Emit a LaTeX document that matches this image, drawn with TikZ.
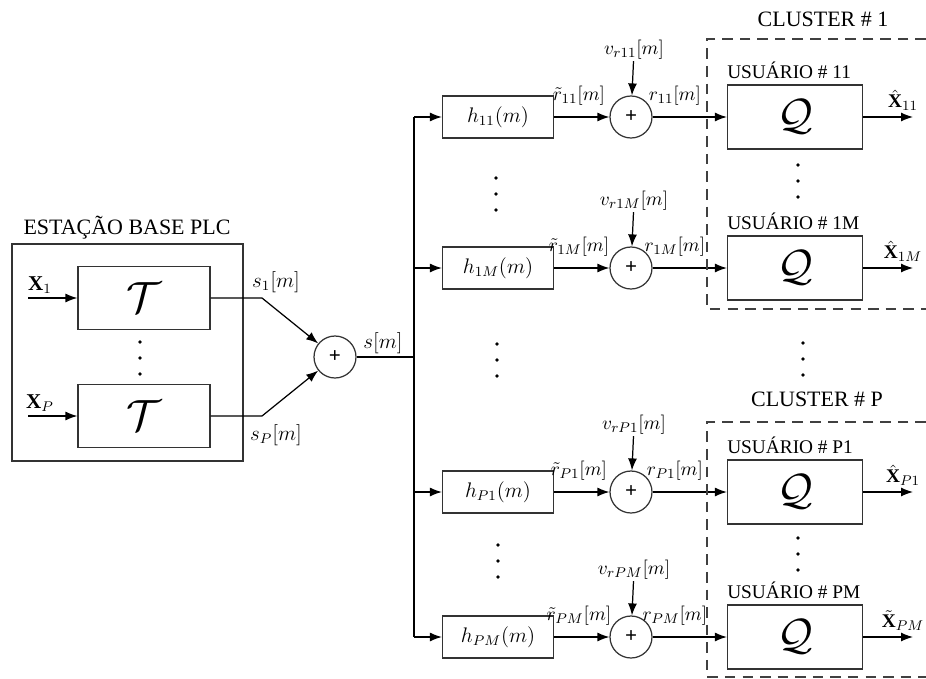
\documentclass[tikz,border=0pt]{standalone}
\usepackage{fontspec}
\setmainfont{Liberation Serif}
\usepackage{tikz}
\usetikzlibrary{arrows.meta,positioning,calc}
\tikzset{
  blk/.style={draw=black!80, line width=0.7pt, inner sep=0pt},
  tbox/.style={blk, minimum width=2.64cm, minimum height=1.26cm,
               font=\fontsize{26}{28}\selectfont},
  hbox/.style={blk, minimum width=2.22cm, minimum height=0.84cm,
               font=\fontsize{12}{14}\selectfont},
  qbox/.style={blk, minimum width=2.7cm, minimum height=1.28cm,
               font=\fontsize{28}{30}\selectfont},
  sumc/.style={circle, draw=black!80, line width=0.7pt, minimum size=0.84cm,
               inner sep=0pt, font=\bfseries\fontsize{12}{14}\selectfont},
  sig/.style={font=\fontsize{12}{14}\selectfont, inner sep=1pt},
  rsig/.style={font=\fontsize{11}{13}\selectfont, inner sep=0.5pt},
  ttl/.style={font=\fontsize{12.5}{14}\selectfont},
  usr/.style={font=\fontsize{11}{13}\selectfont, anchor=south west, inner sep=1pt},
  clus/.style={draw=black!75, line width=0.7pt, dash pattern=on 6pt off 4pt},
}
\newcommand{\dotcol}[2]{%
  \foreach \k in {0,1,2} {\fill (#1,#2+16*\k) circle[radius=1.8];}}

\begin{document}
\begin{tikzpicture}[x=0.02cm, y=-0.02cm, line width=0.7pt,
                    >={Latex[length=2.4mm, width=1.8mm]}]
  \useasboundingbox (0,0) rectangle (926,679);
  % base station
  \node[ttl] (bst) at (127,228) {ESTAÇÃO BASE PLC};
  \draw[blk] (12,244) rectangle (243,461);
  \node[tbox] (t1) at (144,298) {$\mathcal{T}$};
  \node[tbox] (tp) at (144,416) {$\mathcal{T}$};
  \coordinate (x1) at (28,298);
  \coordinate (xp) at (28,416);
  \draw[->] (x1) -- (t1);
  \draw[->] (xp) -- (tp);
  \node[sig] at (40,285) {$\mathbf{X}_1$};
  \node[sig] at (40,403) {$\mathbf{X}_P$};
  \dotcol{140}{342}
  % combiner
  \node[sumc] (sum) at (335,357) {+};
  \coordinate (k1) at (262,298);
  \coordinate (kp) at (262,416);
  \draw[->] (t1) -- (k1) -- (sum);
  \draw[->] (tp) -- (kp) -- (sum);
  \node[sig] at (276,282) {$s_1[m]$};
  \node[sig] at (276,435) {$s_P[m]$};
  \coordinate (jn) at (414,357);
  \draw (sum) -- (jn);
  \node[sig] at (383,343) {$s[m]$};
  % users
  \foreach \r/\y/\acc in {11/117/\hat, 1M/268/\hat, P1/492/\hat, PM/637/\tilde} {
    \node[hbox] (h\r) at (498,\y) {$h_{\r}(m)$};
    \node[sumc] (a\r) at (631,\y) {+};
    \node[qbox] (q\r) at (795,\y) {$\mathcal{Q}$};
    \node[rsig] (v\r) at (634,\y-67) {$v_{r\r}[m]$};
    \coordinate (o\r) at (913,\y);
    \draw[->] (jn |- h\r) -- (h\r);
    \draw[->] (h\r) -- node[rsig, pos=0.45, above=6pt] {$\tilde{r}_{\r}[m]$} (a\r);
    \draw[->] (a\r) -- node[rsig, pos=0.3, above=6pt] {$r_{\r}[m]$} (q\r);
    \draw[->] (v\r) -- (a\r);
    \node[rsig, anchor=south] at ([shift={(-10,-5)}]o\r) {$\acc{\mathbf{X}}_{\r}$};
    \draw[->] (q\r) -- (o\r);
    \node[usr] at ([shift={(-2,-3)}]q\r.north west) {USUÁRIO \# \r};
  }
  \draw (jn |- h11) -- (jn |- hPM);
  % clusters
  \draw[clus] (926,39) -- (707,39) -- (707,309) -- (926,309);
  \draw[clus] (926,422) -- (707,422) -- (707,677) -- (926,677);
  \node[ttl] at (823,19) {CLUSTER \# 1};
  \node[ttl] at (817,399) {CLUSTER \# P};
  \dotcol{496}{178}
  \dotcol{497}{344}
  \dotcol{498}{545}
  \dotcol{798}{165}
  \dotcol{803}{343}
  \dotcol{798}{538}
\end{tikzpicture}
\end{document}
